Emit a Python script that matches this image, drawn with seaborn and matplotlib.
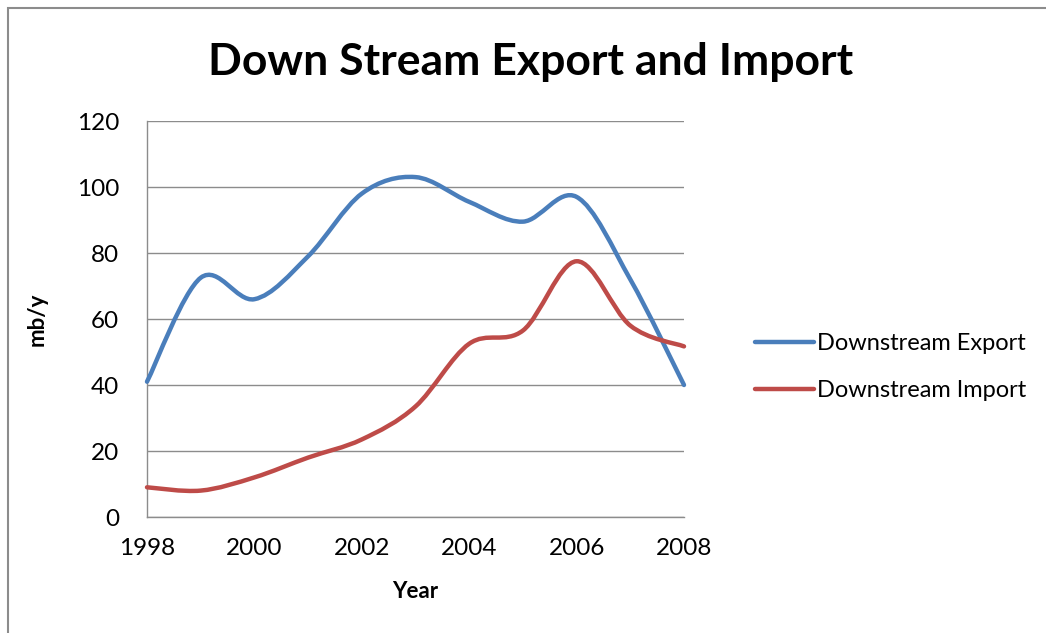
import numpy as np
import pandas as pd
import matplotlib
matplotlib.use("Agg")
import matplotlib.pyplot as plt
from matplotlib.path import Path
from matplotlib.patches import PathPatch, Rectangle
from matplotlib.lines import Line2D
import seaborn as sns

years = [1998, 1999, 2000, 2001, 2002, 2003, 2004, 2005, 2006, 2007, 2008]
export_vals = [41, 72.5, 66, 79, 98, 103, 95.5, 89.5, 97, 72, 40]
import_vals = [9, 8, 12, 18, 23.5, 33.5, 52.5, 56.5, 77.5, 58, 51.7]
series_names = ["Downstream Export", "Downstream Import"]
colors = ["#4A7EBB", "#BE4B48"]


def smooth_path(xs, ys):
    # Excel-style smoothed line: cubic bezier segments through the data points
    pts = np.column_stack([xs, ys]).astype(float)
    verts = [pts[0]]
    codes = [Path.MOVETO]
    n = len(pts)
    for i in range(n - 1):
        p0 = pts[i - 1] if i > 0 else pts[i]
        p1 = pts[i]
        p2 = pts[i + 1]
        p3 = pts[i + 2] if i + 2 < n else pts[i + 1]
        c1 = p1 + (p2 - p0) / 6.0
        c2 = p2 - (p3 - p1) / 6.0
        verts += [c1, c2, p2]
        codes += [Path.CURVE4] * 3
    return Path(verts, codes)


df = pd.DataFrame({
    "Year": years * 2,
    "value": export_vals + import_vals,
    "series": [series_names[0]] * len(years) + [series_names[1]] * len(years),
})

sns.set_style("white")
plt.rcParams["font.family"] = ["Lato", "DejaVu Sans"]
plt.rcParams["text.color"] = "black"

fig = plt.figure(figsize=(10.46, 6.33), dpi=100)
ax = fig.add_axes([147 / 1046, 1 - 517 / 633, 537 / 1046, 396 / 633])

# invisible seaborn layer sets up the data scales
sns.lineplot(data=df, x="Year", y="value", hue="series", ax=ax,
             linewidth=0, legend=False, palette=colors)

for vals, c in zip([export_vals, import_vals], colors):
    ax.add_patch(PathPatch(smooth_path(years, vals), fill=False, edgecolor=c,
                           lw=3.2, capstyle="round", joinstyle="round",
                           clip_on=False, zorder=3))

ax.set_xlim(1998, 2008)
ax.set_ylim(0, 120)
ax.set_xticks(range(1998, 2009, 2))
ax.set_yticks(range(0, 121, 20))
ax.yaxis.grid(True, color="#8C8C8C", linewidth=1.0)
ax.xaxis.grid(False)
ax.set_axisbelow(True)
for s in ["top", "right"]:
    ax.spines[s].set_visible(False)
for s in ["left", "bottom"]:
    ax.spines[s].set_color("#8C8C8C")
    ax.spines[s].set_linewidth(1.0)
ax.tick_params(axis="both", length=0, labelsize=17.5, colors="black")
ax.tick_params(axis="x", pad=15)
ax.tick_params(axis="y", pad=20)

ax.set_xlabel("Year", fontsize=16, fontweight="bold", labelpad=16, color="black")
ax.set_ylabel("mb/y", fontsize=16, fontweight="bold", labelpad=21, color="black")

fig.suptitle("Down Stream Export and Import", x=531 / 1046, y=1 - 62 / 633,
             va="center", fontsize=32, fontweight="bold", color="black")

handles = [Line2D([], [], color=c, lw=3.2, solid_capstyle="round") for c in colors]
fig.legend(handles, series_names, loc="center left",
           bbox_to_anchor=(734 / 1046, 1 - 367 / 633), frameon=False,
           fontsize=17, handlelength=2.5, handletextpad=0.1, labelspacing=1.12)

# chart area border
fig.add_artist(Rectangle((8 / 1046, -0.05), 1.2, 1 - 8 / 633 + 0.05,
                         transform=fig.transFigure, fill=False,
                         edgecolor="#8C8C8C", lw=1.5))

fig.savefig("out.png", dpi=100)
